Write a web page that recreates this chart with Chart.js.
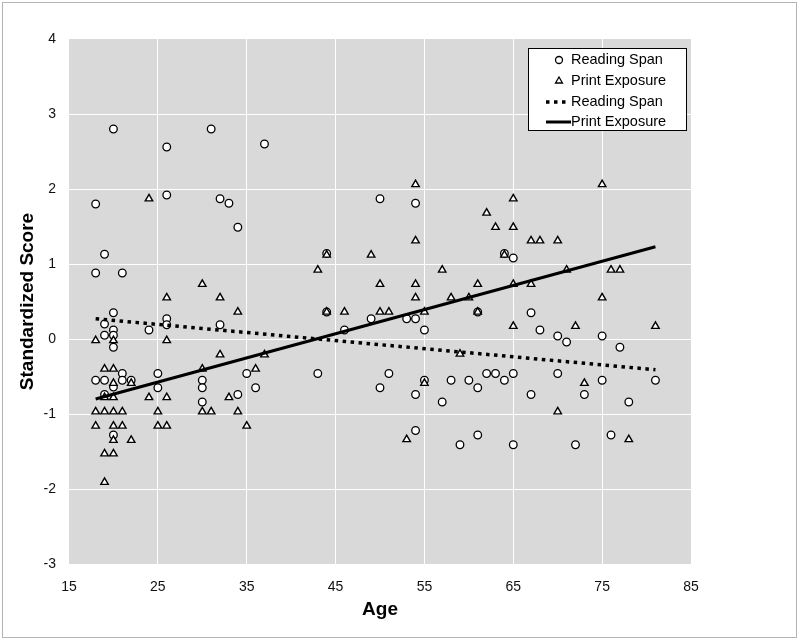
<!DOCTYPE html>
<html>
<head>
<meta charset="utf-8">
<script src="https://cdn.jsdelivr.net/npm/chart.js@4.4.1/dist/chart.umd.min.js"></script>
<style>
  html, body { margin: 0; padding: 0; background: #fff; }
  #wrap { position: relative; width: 800px; height: 641px; }
  #frame { position: absolute; left: 2px; top: 2px; width: 793px; height: 634px; border: 1.5px solid #b4b4b4; pointer-events: none; }
</style>
</head>
<body>
<div id="wrap">
  <canvas id="c" width="800" height="641"></canvas>
  <div id="frame"></div>
</div>
<script>
// ---- Data ----
const xTickLabels = [15, 25, 35, 45, 55, 65, 75, 85];
const yTickLabels = [-3, -2, -1, 0, 1, 2, 3, 4];

const seriesNames = ["Reading Span", "Print Exposure"];

// Reading Span (circles)
const rsAge = [18,18,18,19,19,19,19,19,20,20,20,20,20,20,20,21,21,21,22,24,25,25,26,26,26,26,30,30,30,31,32,32,33,34,34,35,36,37,43,44,44,46,49,50,50,51,53,54,54,54,54,55,55,57,58,59,60,61,61,61,62,63,64,64,65,65,65,67,67,68,70,70,71,72,73,75,75,76,77,78,81];
const rsScore = [1.80,0.88,-0.55, 1.13,0.20,0.05,-0.55,-0.74, 2.80,0.35,0.12,0.05,-0.11,-0.64,-1.28, 0.88,-0.46,-0.55, -0.55, 0.12, -0.46,-0.65, 2.56,1.92,0.27,0.19, -0.55,-0.65,-0.84, 2.80, 1.87,0.19, 1.81, 1.49,-0.74, -0.46, -0.65, 2.60, -0.46, 1.14,0.36, 0.12, 0.27, 1.87,-0.65, -0.46, 0.27, 1.81,0.27,-0.74,-1.22, 0.12,-0.55, -0.84, -0.55, -1.41, -0.55, 0.36,-0.65,-1.28, -0.46, -0.46, 1.14,-0.55, 1.08,-0.46,-1.41, 0.35,-0.74, 0.12, 0.04,-0.46, -0.04, -1.41, -0.74, 0.04,-0.55, -1.28, -0.11, -0.84, -0.55];

// Print Exposure (triangles)
const peAge = [18,18,18,19,19,19,19,19,20,20,20,20,20,20,20,20,21,21,22,22,24,24,25,25,26,26,26,26,30,30,30,31,32,32,33,34,34,35,36,37,43,44,44,46,49,50,50,51,53,54,54,54,54,55,55,57,58,59,60,61,61,62,63,64,65,65,65,65,67,67,68,70,70,71,72,73,75,75,76,77,78,81];
const peScore = [-0.02,-0.97,-1.16, -0.40,-0.78,-0.97,-1.53,-1.91, -0.02,-0.40,-0.59,-0.78,-0.97,-1.16,-1.35,-1.53, -0.97,-1.16, -0.59,-1.35, 1.87,-0.78, -0.97,-1.16, 0.55,-0.02,-0.78,-1.16, 0.73,-0.40,-0.97, -0.97, 0.55,-0.21, -0.78, 0.36,-0.97, -1.16, -0.40, -0.21, 0.92, 1.12,0.36, 0.36, 1.12, 0.73,0.36, 0.36, -1.34, 2.06,1.31,0.73,0.55, 0.36,-0.59, 0.92, 0.55, -0.20, 0.55, 0.73,0.36, 1.68, 1.49, 1.12, 1.87,1.49,0.73,0.17, 1.31,0.73, 1.31, 1.31,-0.97, 0.92, 0.17, -0.59, 2.06,0.55, 0.92, 0.92, -1.34, 0.17];

// Linear trend lines (end points)
const trendAge = [18, 81];
const rsTrend = [0.27, -0.41];
const peTrend = [-0.80, 1.23];

// ---- Build chart ----
const toPts = (xs, ys) => xs.map((x, i) => ({ x: x, y: ys[i] }));

const bgPlugin = {
  id: 'bg',
  beforeDraw(chart) {
    const ctx = chart.ctx;
    const a = chart.chartArea;
    ctx.save();
    ctx.fillStyle = '#ffffff';
    ctx.fillRect(0, 0, chart.width, chart.height);
    ctx.fillStyle = '#d9d9d9';
    ctx.fillRect(a.left, a.top, a.right - a.left, a.bottom - a.top);
    ctx.restore();
  }
};

const legendPlugin = {
  id: 'boxLegend',
  afterDraw(chart) {
    const ctx = chart.ctx;
    const bx = 528, by = 48, bw = 158, bh = 82;
    ctx.save();
    ctx.fillStyle = '#ffffff';
    ctx.fillRect(bx, by, bw, bh);
    ctx.strokeStyle = '#000';
    ctx.lineWidth = 1;
    ctx.strokeRect(bx + 0.5, by + 0.5, bw, bh);
    const rows = [60, 81, 102, 122];
    const mx = 559, tx = 571;
    // circle
    ctx.fillStyle = '#fff'; ctx.lineWidth = 1.3; ctx.strokeStyle = '#000';
    ctx.beginPath(); ctx.arc(mx, rows[0], 3.5, 0, Math.PI * 2); ctx.fill(); ctx.stroke();
    // triangle
    const r = 4;
    ctx.beginPath();
    ctx.moveTo(mx, rows[1] - r);
    ctx.lineTo(mx + r * Math.sin(2 * Math.PI / 3), rows[1] - r * Math.cos(2 * Math.PI / 3));
    ctx.lineTo(mx + r * Math.sin(4 * Math.PI / 3), rows[1] - r * Math.cos(4 * Math.PI / 3));
    ctx.closePath(); ctx.fill(); ctx.stroke();
    // dotted
    ctx.lineWidth = 3.5; ctx.setLineDash([3.5, 4.5]);
    ctx.beginPath(); ctx.moveTo(546, rows[2]); ctx.lineTo(569, rows[2]); ctx.stroke();
    ctx.setLineDash([]);
    ctx.lineWidth = 3;
    ctx.beginPath(); ctx.moveTo(546, rows[3]); ctx.lineTo(571, rows[3]); ctx.stroke();
    // text
    ctx.fillStyle = '#000';
    ctx.font = '14.5px "Liberation Sans", Arial, sans-serif';
    ctx.textBaseline = 'middle';
    ctx.textAlign = 'left';
    ctx.fillText(seriesNames[0], tx, rows[0]);
    ctx.fillText(seriesNames[1], tx, rows[1]);
    ctx.fillText(seriesNames[0], tx, rows[2]);
    ctx.fillText(seriesNames[1], tx, rows[3]);
    ctx.restore();
  }
};

const gridColor = (edgeVals) => (c) => (edgeVals.includes(c.tick && c.tick.value) ? 'rgba(0,0,0,0)' : '#ffffff');

new Chart(document.getElementById('c'), {
  type: 'scatter',
  data: {
    datasets: [
      {
        label: seriesNames[0] + ' trend',
        data: toPts(trendAge, rsTrend),
        showLine: true,
        pointRadius: 0,
        borderColor: '#000',
        borderWidth: 3.5,
        borderDash: [3.5, 4.5],
        fill: false,
        order: 0
      },
      {
        label: seriesNames[1] + ' trend',
        data: toPts(trendAge, peTrend),
        showLine: true,
        pointRadius: 0,
        borderColor: '#000',
        borderWidth: 3,
        fill: false,
        order: 0
      },
      {
        label: seriesNames[1],
        data: toPts(peAge, peScore),
        pointStyle: 'triangle',
        pointRadius: 4.3,
        backgroundColor: '#ffffff',
        borderColor: '#000',
        borderWidth: 1.4,
        order: 1
      },
      {
        label: seriesNames[0],
        data: toPts(rsAge, rsScore),
        pointStyle: 'circle',
        pointRadius: 3.8,
        backgroundColor: '#ffffff',
        borderColor: '#000',
        borderWidth: 1.3,
        order: 2
      }
    ]
  },
  options: {
    responsive: false,
    animation: false,
    devicePixelRatio: 1,
    layout: { padding: { left: 0, top: 39, right: 109, bottom: 0 } },
    plugins: { legend: { display: false }, tooltip: { enabled: false } },
    scales: {
      x: {
        type: 'linear',
        min: 15, max: 85,
        afterBuildTicks(scale) { scale.ticks = xTickLabels.map(v => ({ value: v })); },
        afterFit(scale) { scale.height = 77; },
        grid: { color: gridColor([15, 85]), lineWidth: 1, drawTicks: false },
        border: { display: false },
        ticks: { padding: 15, color: '#111', font: { family: '"Liberation Sans", Arial, sans-serif', size: 14 }, maxRotation: 0 },
        title: { display: true, text: 'Age', color: '#000', padding: { top: 0, bottom: 20 }, font: { family: '"Liberation Sans", Arial, sans-serif', size: 19, weight: 'bold' } }
      },
      y: {
        type: 'linear',
        min: -3, max: 4,
        afterBuildTicks(scale) { scale.ticks = yTickLabels.map(v => ({ value: v })); },
        afterFit(scale) { scale.width = 69; },
        grid: { color: gridColor([-3, 4]), lineWidth: 1, drawTicks: false },
        border: { display: false },
        ticks: { padding: 13, color: '#111', font: { family: '"Liberation Sans", Arial, sans-serif', size: 14 } },
        title: { display: true, text: 'Standardized Score', color: '#000', padding: { top: 16, bottom: 0 }, font: { family: '"Liberation Sans", Arial, sans-serif', size: 19, weight: 'bold' } }
      }
    }
  },
  plugins: [bgPlugin, legendPlugin]
});
</script>
</body>
</html>
